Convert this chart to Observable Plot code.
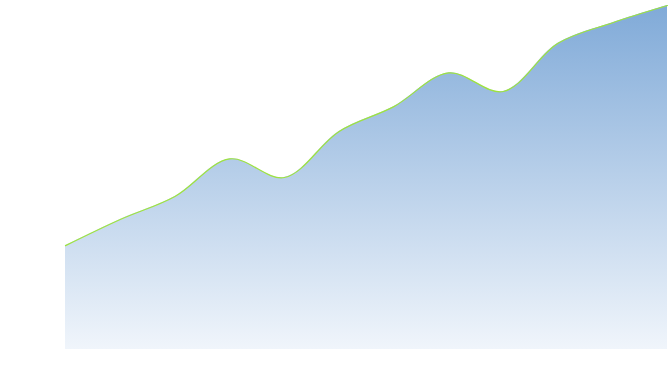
<!DOCTYPE html>
<html>
<head>
<meta charset="utf-8">
<script src="https://cdn.jsdelivr.net/npm/d3@7"></script>
<script src="https://cdn.jsdelivr.net/npm/@observablehq/plot@0.6"></script>
<style>
  html, body { margin: 0; padding: 0; background: #fff; }
  #chart svg { display: block; }
</style>
</head>
<body>
<div id="chart"></div>
<script>
const steps = [1, 2, 3, 4, 5, 6, 7, 8, 9, 10, 11, 12];
const values = [30.2, 37.8, 44.5, 55.4, 50.0, 63.4, 70.6, 80.4, 75.0, 89.0, 95.0, 100];

const data = steps.map((s, i) => ({step: s, value: values[i]}));

const gradient = () => {
  const defs = d3.create("svg:defs");
  const g = defs.append("linearGradient")
    .attr("id", "areaGrad")
    .attr("x1", 0).attr("y1", 0).attr("x2", 0).attr("y2", 1);
  g.append("stop").attr("offset", "0%").attr("stop-color", "#80aad8");
  g.append("stop").attr("offset", "100%").attr("stop-color", "#f0f5fb");
  return defs.node();
};

const chart = Plot.plot({
  width: 672,
  height: 384,
  marginLeft: 65,
  marginRight: 5,
  marginTop: 5,
  marginBottom: 35,
  x: {domain: [1, 12], axis: null},
  y: {domain: [0, 100], axis: null},
  marks: [
    gradient,
    Plot.areaY(data, {x: "step", y: "value", curve: "catmull-rom", fill: "url(#areaGrad)"}),
    Plot.lineY(data, {x: "step", y: "value", curve: "catmull-rom", stroke: "#9ee33f", strokeWidth: 1.2})
  ]
});
document.getElementById("chart").appendChild(chart);
</script>
</body>
</html>
